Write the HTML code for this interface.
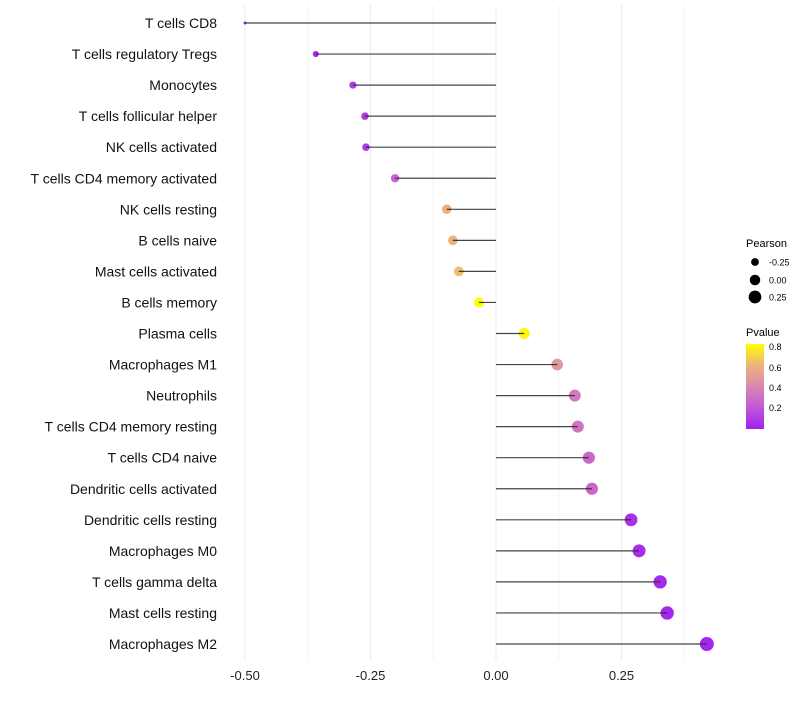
<!DOCTYPE html>
<html><head><meta charset="utf-8"><style>
body{margin:0;background:#fff}
svg{font-family:"Liberation Sans",Arial,sans-serif}
</style></head><body>
<svg id="chart" width="800" height="700" xmlns="http://www.w3.org/2000/svg">
<defs><linearGradient id="pg" x1="0" y1="1" x2="0" y2="0">
<stop offset="0" stop-color="#a020f0"/><stop offset="0.25" stop-color="#c257d8"/><stop offset="0.5" stop-color="#d888b0"/><stop offset="0.75" stop-color="#eeb37c"/><stop offset="1" stop-color="#ffff00"/></linearGradient></defs>
<g id="grid"></g><g id="marks"></g><g id="labels"></g><g id="xticks"></g>
<g>
<text x="746" y="247" font-size="11" fill="#000">Pearson</text>
<circle cx="755" cy="262" r="3.9" fill="#000"/><text x="769" y="265.5" font-size="9">-0.25</text>
<circle cx="755" cy="280" r="5.25" fill="#000"/><text x="769" y="283.5" font-size="9">0.00</text>
<circle cx="755" cy="297" r="6.35" fill="#000"/><text x="769" y="300.5" font-size="9">0.25</text>
</g>
<g>
<text x="746" y="336" font-size="11">Pvalue</text>
<rect x="746" y="344" width="18" height="85" fill="url(#pg)"/>
<text x="769" y="350" font-size="9">0.8</text>
<text x="769" y="371" font-size="9">0.6</text>
<text x="769" y="391" font-size="9">0.4</text>
<text x="769" y="411" font-size="9">0.2</text>
</g>
</svg>
<script>
const categories=["T cells CD8","T cells regulatory  Tregs","Monocytes","T cells follicular helper","NK cells activated","T cells CD4 memory activated","NK cells resting","B cells naive","Mast cells activated","B cells memory","Plasma cells","Macrophages M1","Neutrophils","T cells CD4 memory resting","T cells CD4 naive","Dendritic cells activated","Dendritic cells resting","Macrophages M0","T cells gamma delta","Mast cells resting","Macrophages M2"];
const pearson=[-0.50,-0.359,-0.285,-0.261,-0.259,-0.201,-0.098,-0.086,-0.074,-0.034,0.056,0.122,0.157,0.163,0.185,0.191,0.269,0.285,0.327,0.341,0.420];
const pvalue=[0.0,0.03,0.1,0.1,0.1,0.25,0.6,0.62,0.65,0.85,0.8,0.5,0.35,0.33,0.27,0.27,0.06,0.05,0.03,0.03,0.02];
const xTicks=[-0.5,-0.25,0,0.25];
const xTickLabels=["-0.50","-0.25","0.00","0.25"];
const NS="http://www.w3.org/2000/svg";
const x=v=>496+v*502;
const y=i=>23+i*31.05;
const rad=v=>Math.sqrt(Math.max(0.5,27.6+50.8*v));
const stops=[[0,[160,32,240]],[0.25,[194,87,216]],[0.5,[216,136,176]],[0.75,[238,179,124]],[1,[255,255,0]]];
function col(p){let t=Math.min(1,Math.max(0,p/0.83));for(let k=0;k<stops.length-1;k++){const a=stops[k],b=stops[k+1];if(t<=b[0]){const f=(t-a[0])/(b[0]-a[0]);return "rgb("+a[1].map((c,j)=>Math.round(c+(b[1][j]-c)*f)).join(",")+")";}}return "rgb(255,255,0)";}
function mk(tag,at,parent){const e=document.createElementNS(NS,tag);for(const k in at)e.setAttribute(k,at[k]);document.getElementById(parent).appendChild(e);return e;}
for(let g=-0.5;g<=0.4;g+=0.125){const l=mk("line",{x1:x(g),x2:x(g),y1:5,y2:660,stroke:"#ebebeb","stroke-width":Math.abs((g*4)%1)<1e-6?1:0.6},"grid");

}
xTicks.forEach((t,i)=>{const e=mk("text",{x:x(t),y:680,"font-size":"13","text-anchor":"middle",fill:"#222"},"xticks");e.textContent=xTickLabels[i];

});
categories.forEach((c,i)=>{
const t=mk("text",{x:217,y:y(i)+5,"font-size":"14","text-anchor":"end",fill:"#111"},"labels");t.textContent=c;


const l=mk("line",{x1:x(0),x2:x(pearson[i]),y1:y(i),y2:y(i),stroke:"#444","stroke-width":1.2},"marks");


const r=rad(pearson[i]);
const d=mk("circle",{cx:x(pearson[i]),cy:y(i),r:r,fill:col(pvalue[i])},"marks");


const dir=pearson[i]<0?1:-1;
const l2=mk("line",{x1:x(pearson[i]),x2:x(pearson[i])+dir*r,y1:y(i),y2:y(i),stroke:"#333","stroke-width":1.2},"marks");


});
</script>
</body></html>
